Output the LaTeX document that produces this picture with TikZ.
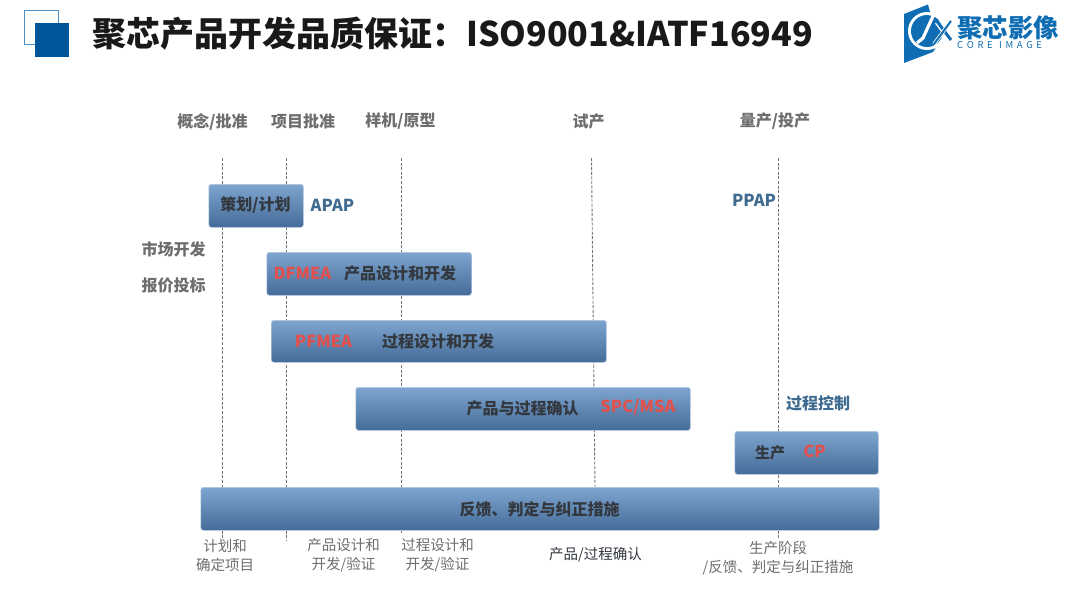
\documentclass[tikz,border=0pt]{standalone}
\usepackage{fontspec}
\setmainfont{Noto Sans CJK SC}
\definecolor{topblue}{HTML}{7DA5CF}
\definecolor{botblue}{HTML}{456C98}
\definecolor{edgeblue}{HTML}{B4C9DF}
\definecolor{greytxt}{HTML}{6E6E6E}
\definecolor{darktxt}{HTML}{33383F}
\definecolor{redtxt}{HTML}{E2504E}
\definecolor{bluetxt}{HTML}{3F6B91}
\definecolor{logoblue}{HTML}{0F6DB3}
\definecolor{squareblue}{HTML}{00569B}
\definecolor{squareedge}{HTML}{4A90C8}
\tikzset{
  x=1pt,y=-1pt,
  bar/.style={draw=edgeblue,line width=0.7pt,rounded corners=2.5pt,top color=topblue,bottom color=botblue,middle color=topblue!50!botblue,inner sep=0pt,anchor=north west},
  stage/.style={text=greytxt,font=\bfseries\fontsize{16}{16}\selectfont,inner sep=0pt},
  note/.style={text=greytxt,font=\fontsize{14.5}{19}\selectfont,inner sep=0pt,align=center},
  bartxt/.style={text=darktxt,font=\bfseries\fontsize{16}{16}\selectfont,inner sep=0pt},
  redlab/.style={text=redtxt,font=\bfseries\fontsize{16.5}{16.5}\selectfont,inner sep=0pt},
  bluelab/.style={text=bluetxt,font=\bfseries\fontsize{16.5}{16.5}\selectfont,inner sep=0pt},
  guide/.style={draw=black!55,dash pattern=on 3pt off 1.6pt,line width=0.9pt},
}
\newcommand{\barbox}[5]{\node[bar,minimum width=#3,minimum height=#4] (#5) at (#1,#2) {};}
\begin{document}
\begin{tikzpicture}
\useasboundingbox (0,0) rectangle (1080,592);
\fill[white] (0,0) rectangle (1080,592);
% corner squares
\draw[squareedge,line width=0.9pt] (24.5,10.5) rectangle (58,44);
\fill[squareblue] (35,23) rectangle (69,57);
% title
\node[anchor=west,inner sep=0pt,text=black!90,font=\bfseries\fontsize{34}{34}\selectfont] (title) at (92,34) {聚芯产品开发品质保证：ISO9001\&IATF16949};
% logo
\fill[logoblue] (904,14) -- (928,4.5) -- (930,12) -- (947,30) -- (933,52) -- (904,63) -- cycle;
\fill[white] (927,31) circle (19);
\fill[logoblue] (927,31) circle (16);
\draw[white,line width=3.2pt] (934,14) -- (923,38) -- (917,43);
\draw[white,line width=1.6pt] (929,14.5) -- (946,15);
\draw[white,line width=5pt] (937,22) -- (951,41);
\draw[logoblue,line width=3pt] (936,20) -- (951,40);
\draw[white,line width=3.6pt] (951,21) -- (934,44);
\draw[logoblue,line width=2pt] (951,21) -- (934,44);
\node[anchor=west,inner sep=0pt,text=logoblue,font=\bfseries\fontsize{25.5}{25.5}\selectfont] (logotxt) at (957,28) {聚芯影像};
\node[anchor=west,inner sep=0pt,text=logoblue,font=\fontsize{9.5}{9.5}\selectfont] (logoen) at (957,45.5) {C\hspace{3.6pt}O\hspace{3.6pt}R\hspace{3.6pt}E\hspace{6.5pt}I\hspace{3.6pt}M\hspace{3.6pt}A\hspace{3.6pt}G\hspace{3.6pt}E};
% guides
\coordinate (g1t) at (222.5,158); \coordinate (g1b) at (222.5,538);
\coordinate (g2t) at (286.5,158); \coordinate (g2b) at (286.5,540);
\coordinate (g3t) at (401,158);   \coordinate (g3b) at (401,533);
\coordinate (g4t) at (591.5,158); \coordinate (g4b) at (595,487);
\coordinate (g5t) at (778,158);   \coordinate (g5b) at (778,539);
\foreach \k in {1,...,5} \draw[guide] (g\k t) -- (g\k b);
% stage labels
\node[stage] (s1) at (212.5,121.5) {概念/批准};
\node[stage] (s2) at (303,121.5) {项目批准};
\node[stage] (s3) at (400.5,121.5) {样机/原型};
\node[stage] (s4) at (588.5,121.5) {试产};
\node[stage] (s5) at (775,121.5) {量产/投产};
% bars
\barbox{208.5}{184}{94.5}{43}{b1}
\barbox{266.5}{252}{204.5}{43}{b2}
\barbox{271}{320}{335}{42}{b3}
\barbox{355.5}{387}{334.5}{43}{b4}
\barbox{734.5}{431}{143.5}{43}{b5}
\barbox{200.5}{487}{678.5}{43}{b6}
% bar text
\node[bartxt] (t1) at (255.5,205.5) {策划/计划};
\node[redlab] (r2) at (302.5,273.5) {DFMEA};
\node[bartxt] (t2) at (400,273.5) {产品设计和开发};
\node[redlab] (r3) at (323.5,341) {PFMEA};
\node[bartxt] (t3) at (438,341) {过程设计和开发};
\node[bartxt] (t4) at (522.5,408.5) {产品与过程确认};
\node[redlab] (r4) at (638,407.5) {SPC/MSA};
\node[bartxt,font=\bfseries\fontsize{15}{15}\selectfont] (t5) at (770,452.5) {生产};
\node[redlab] (r5) at (814.5,451.5) {CP};
\node[bartxt] (t6) at (539.5,509.5) {反馈、判定与纠正措施};
% side labels
\node[bluelab] (apap) at (332.5,205.5) {APAP};
\node[bluelab] (ppap) at (754,200.5) {PPAP};
\node[bluelab,font=\bfseries\fontsize{16}{16}\selectfont] (pc) at (818,403.5) {过程控制};
\node[stage] (m1) at (173.5,249) {市场开发};
\node[stage] (m2) at (173.5,285) {报价投标};
% bottom notes
\node[note] (n1) at (225,555.5) {计划和\\确定项目};
\node[note] (n2) at (343.5,555.5) {产品设计和\\开发/验证};
\node[note] (n3) at (437.5,555.5) {过程设计和\\开发/验证};
\node[note,text=darktxt] (n4) at (595.5,554.5) {产品/过程确认};
\node[note] (n5) at (778,558.5) {生产阶段\\/反馈、判定与纠正措施};
\end{tikzpicture}
\end{document}
